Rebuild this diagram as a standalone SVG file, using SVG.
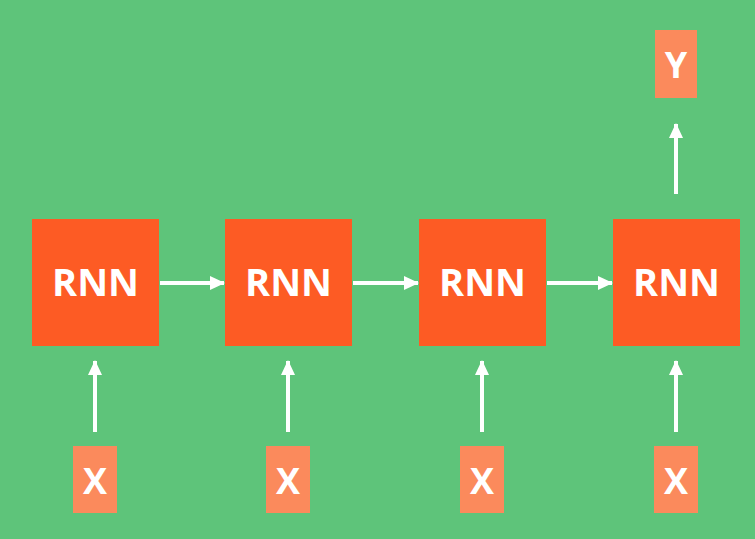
<svg xmlns="http://www.w3.org/2000/svg" width="755" height="539" viewBox="0 0 755 539">
<style>
.rnn{fill:#fd5b24}
.io{fill:#fb8a5c}
.t{fill:#fff;font-family:"Open Sans","Liberation Sans",sans-serif;font-weight:bold;text-anchor:middle}
.c{stroke:#fff;stroke-width:4;fill:none;marker-end:url(#a)}
</style>
<defs><marker id="a" markerUnits="userSpaceOnUse" markerWidth="16" markerHeight="16" refX="14" refY="8" orient="auto"><path d="M0,1 L15,8 L0,15 Z" fill="#fff"/></marker></defs>
<rect width="755" height="539" fill="#5ec47a"/>
<g id="rnn1"><rect class="rnn" x="32" y="219" width="127" height="127"/><text class="t" x="95.5" y="296" font-size="38">RNN</text></g>
<g id="rnn2"><rect class="rnn" x="225" y="219" width="127" height="127"/><text class="t" x="288.5" y="296" font-size="38">RNN</text></g>
<g id="rnn3"><rect class="rnn" x="419" y="219" width="127" height="127"/><text class="t" x="482.5" y="296" font-size="38">RNN</text></g>
<g id="rnn4"><rect class="rnn" x="613" y="219" width="127" height="127"/><text class="t" x="676.5" y="296" font-size="38">RNN</text></g>
<g id="x1"><rect class="io" x="73" y="446" width="44" height="67"/><text class="t" x="95" y="494" font-size="36">X</text></g>
<g id="x2"><rect class="io" x="266" y="446" width="44" height="67"/><text class="t" x="288" y="494" font-size="36">X</text></g>
<g id="x3"><rect class="io" x="460" y="446" width="44" height="67"/><text class="t" x="482" y="494" font-size="36">X</text></g>
<g id="x4"><rect class="io" x="654" y="446" width="44" height="67"/><text class="t" x="676" y="494" font-size="36">X</text></g>
<g id="y"><rect class="io" x="655" y="30" width="42" height="68"/><text class="t" x="676" y="78" font-size="36">Y</text></g>
<g id="connectors">
<path class="c" d="M160,283 H224"/>
<path class="c" d="M353,283 H418"/>
<path class="c" d="M547,283 H612"/>
<path class="c" d="M95,432 V361"/>
<path class="c" d="M288,432 V361"/>
<path class="c" d="M482,432 V361"/>
<path class="c" d="M676,432 V361"/>
<path class="c" d="M676,194 V124"/>
</g>
</svg>
